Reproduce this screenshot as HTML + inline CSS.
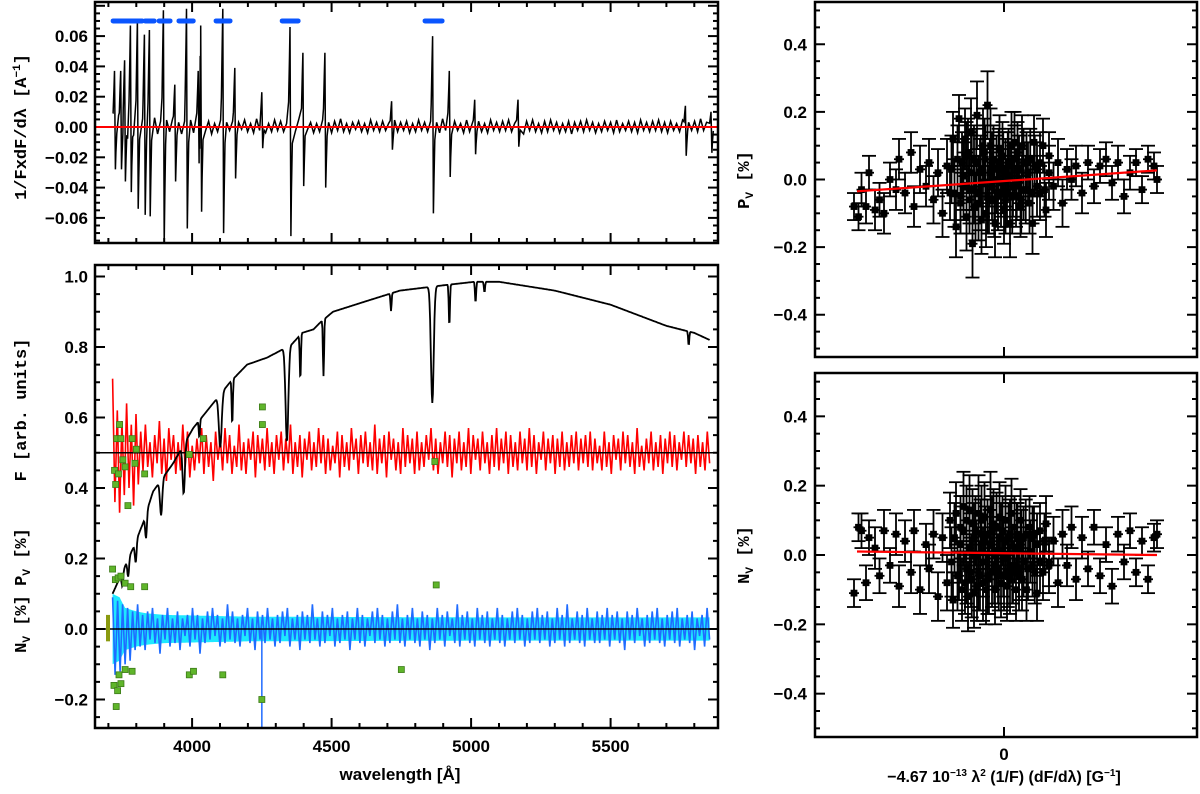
<!DOCTYPE html>
<html><head><meta charset="utf-8"><style>
html,body{margin:0;padding:0;background:#fff;}
svg{display:block;}
text{font-family:"Liberation Sans",sans-serif;font-weight:bold;fill:#000;}
</style></head><body>
<svg id="fig" xmlns="http://www.w3.org/2000/svg" width="1200" height="794" viewBox="0 0 1200 794">
<g id="g-top"></g>
<g id="g-bot"></g>
<g id="g-rt"></g>
<g id="g-rb"></g>
<text x="26" y="127" font-size="17" text-anchor="middle" transform="rotate(-90 26 127)" style="font-family:'Liberation Mono',monospace">1/FxdF/dλ [A<tspan font-size="11" dy="-6">−1</tspan><tspan dy="6">]</tspan></text>
<text x="26" y="410" font-size="17" text-anchor="middle" transform="rotate(-90 26 410)" style="font-family:'Liberation Mono',monospace">F [arb. units]</text>
<text x="26" y="557" font-size="17" text-anchor="middle" transform="rotate(-90 26 557)" style="font-family:'Liberation Mono',monospace">P<tspan font-size="11" dy="4">V</tspan><tspan dy="-4"> [%]</tspan></text>
<text x="26" y="624" font-size="17" text-anchor="middle" transform="rotate(-90 26 624)" style="font-family:'Liberation Mono',monospace">N<tspan font-size="11" dy="4">V</tspan><tspan dy="-4"> [%]</tspan></text>
<text x="400" y="780" font-size="17" text-anchor="middle">wavelength [Å]</text>
<text x="749" y="180" font-size="17" text-anchor="middle" transform="rotate(-90 749 180)" style="font-family:'Liberation Mono',monospace">P<tspan font-size="11" dy="4">V</tspan><tspan dy="-4"> [%]</tspan></text>
<text x="749" y="555" font-size="17" text-anchor="middle" transform="rotate(-90 749 555)" style="font-family:'Liberation Mono',monospace">N<tspan font-size="11" dy="4">V</tspan><tspan dy="-4"> [%]</tspan></text>
<text x="1004" y="782" font-size="16" text-anchor="middle">−4.67 10<tspan font-size="10" dy="-6">−13</tspan><tspan dy="6"> λ</tspan><tspan font-size="10" dy="-6">2</tspan><tspan dy="6"> (1/F) (dF/dλ) [G</tspan><tspan font-size="10" dy="-6">−1</tspan><tspan dy="6">]</tspan></text>
</svg>
<script>
// ---------- data ----------
const derivFeatLam = [3724,3746,3760,3781,3806,3831,3849,3899,3940,3982,4024,4033,4112,4155,4252,4353,4399,4478,4717,4864,4924,5015,5170,5770,5862];
const derivFeatPos = [0.037,0.037,0.044,0.067,0.070,0.061,0.064,0.077,0.028,0.078,0.037,0.067,0.078,0.039,0.023,0.066,0.049,0.049,0.017,0.060,0.037,0.018,0.018,0.014,0.010];
const derivFeatNeg = [-0.028,-0.028,-0.036,-0.043,-0.054,-0.058,-0.059,-0.077,-0.036,-0.067,-0.024,-0.056,-0.070,-0.034,-0.014,-0.072,-0.039,-0.040,-0.015,-0.057,-0.033,-0.018,-0.013,-0.019,-0.017];
const derivNoise = [12,-9,10,-8,9,-10,8,-7,9,-6,7,-8,6,-5,8,-6,5,-7,6,-4,7,-5,4,-6,5,-3,6,-5,4,-4,7,-3,5,-6,3,-4,6,-5,4,-3,5,-6,4,-2,6,-4,3,-5,7,-3,4,-5,3,-4,6,-3,5,-4,3,-5,4,-3,6,-4,5,-2,4,-5,3,-4,6,-3,4,-5,5,-3,7,-4,3,-5,4,-2,5,-4,3,-5,6,-3,4,-4,5,-3,3,-5,6,-4,4,-3,5,-5,3,-4,6,-3,4,-4,5,-2,4,-5,7,-3,4,-4,5,-3,3,-5,6,-4,4,-3,5,-4,3,-5,6,-3,4,-4,5,-3,6,-4,3,-5,4,-6,5,-3,6,-4,3,-5,5,-4,6,-3,4,-5,3,-4,5,-6,4,-3,5,-4,6,-3,4,-5,3,-4,5,-3,4,-5,6,-4,3,-3,5,-4,4,-5,6,-3,4,-4,5,-3,6,-4,4,-5,5,-3,3,-4,6,-5,4,-3,5,-4,7,-3,4,-5];
const maskStart = [3717,3832,3882,3953,4086,4323,4835];
const maskEnd   = [3821,3864,3921,4004,4136,4380,4896];

const contLam  = [3715,3789,3824,3860,3932,4004,4065,4136,4197,4269,4317,4360,4394,4435,4460,4505,4624,4745,4900,5012,5100,5300,5500,5700,5800,5855];
const contFlux = [0.10,0.23,0.30,0.39,0.47,0.57,0.63,0.70,0.75,0.77,0.79,0.81,0.84,0.85,0.87,0.90,0.93,0.96,0.975,0.985,0.985,0.96,0.92,0.86,0.84,0.82];
const lineLam   = [3750,3771,3798,3835,3889,3970,4026,4101,4144,4340,4388,4471,4713,4861,4922,5016,5048,5780];
const lineDepth = [0.04,0.05,0.06,0.07,0.10,0.14,0.05,0.15,0.13,0.27,0.13,0.16,0.05,0.33,0.12,0.06,0.03,0.04];
const lineWidth = [3,3,3,3,4,4,2,5,2,5,2,2,2,5,2,2,2,2];

const pvSpec = [21,-14,12,-17,9,-12,14,-10,8,-15,11,-9,6,-5,8,-4,3,-7,5,-3,9,-6,4,-8,7,-2,5,-6,3,-5,8,-4,6,-7,2,-5,4,-3,7,-6,5,-4,3,-8,6,-2,4,-5,7,-3,5,-6,2,-4,8,-5,3,-6,4,-2,6,-7,5,-3,4,-5,7,-4,3,-6,5,-2,6,-5,4,-3,8,-6,3,-4,5,-7,4,-2,6,-5,3,-4,7,-3,5,-6,4,-5,2,-3,6,-7,5,-4,3,-5,7,-2,4,-6,5,-3,6,-4,3,-5,8,-6,4,-3,5,-7,6,-2,4,-5,3,-6,7,-4,5,-3,4,-6,6,-5,3,-4,5,-2,7,-5,4,-6,3,-3,6,-4,5,-7,4,-3,6,-5,3,-4,7,-6,5,-2,4,-5,6,-3,3,-6,5,-4,7,-5,4,-3,6,-6,5,-4,3,-5,6,-3,4,-5,7,-4,5,-6,3,-2,6,-5,4,-3,5,-6,4,-4,6,-5,3,-4,5,-3,6,-5,4,-3,5,-4,6,-5,4,-3,2,-5,6,-4,3,-6,5,-2,4,-5,6,-3,5,-4,3,-6,7,-4,2,-5,4,-3,6,-5,3,-4,5,-6,4,-3,6,-4,5,-5,3,-2,6,-4,5,-3,4,-6,5,-4,3,-5,6,-3];
const nvSpec = [9,-13,8,-12,7,-10,6,-9,5,-6,7,-5,4,-6,5,-3,6,-4,3,-7,4,-3,6,-5,3,-4,5,-6,3,-2,4,-5,6,-3,4,-7,3,-4,5,-3,6,-2,4,-5,3,-4,7,-3,5,-4,3,-5,4,-2,6,-4,3,-6,5,-3,4,-4,6,-3,3,-5,4,-4,5,-2,6,-5,3,-3,4,-6,5,-3,4,-4,7,-3,3,-5,5,-4,4,-2,6,-5,3,-4,4,-3,5,-6,3,-3,6,-4,4,-5,3,-2,5,-4,6,-3,4,-5,3,-4,5,-3,7,-4,3,-5,4,-3,6,-4,3,-5,5,-3,4,-6,3,-4,6,-3,4,-5,5,-2,3,-4,7,-5,4,-3,5,-4,3,-5,6,-3,4,-4,5,-5,3,-3,6,-4,4,-5,3,-3,5,-4,6,-3,4,-5,3,-4,5,-3,6,-4,4,-3,5,-5,3,-4,6,-3,4,-5,7,-4,3,-3,5,-4,4,-5,6,-3,3,-4,5,-4,4,-3,6,-5,4,-3,5,-4,3,-6,5,-3,4,-4,6,-2,3,-5,4,-4,5,-3,6,-4,3,-5,4,-3,5,-4,6,-5,3,-3,4,-4,5,-6,3,-2,4,-5,6,-3];
const nvErrLam = [3715,3740,3760,3800,3832,3900,4200,5000,5855];
const nvErrVal = [0.10,0.09,0.06,0.05,0.045,0.04,0.035,0.033,0.033];
const pvOutLam = [3722,3726,3730,3736,3740,3745,3752,3760,3770,3785,3795,3800,3830,3990,4040,4252,4252,4870];
const pvOutVal = [0.45,0.41,0.54,0.44,0.58,0.54,0.48,0.46,0.35,0.54,0.47,0.51,0.44,0.495,0.54,0.63,0.58,0.475];
const nvOutLam = [3715,3725,3735,3745,3760,3780,3830,3720,3728,3733,3738,3745,3760,3785,3990,4005,4110,4250,4750,4875];
const nvOutVal = [0.17,0.14,0.145,0.15,0.13,0.12,0.12,-0.16,-0.22,-0.175,-0.13,-0.155,-0.115,-0.12,-0.13,-0.12,-0.13,-0.20,-0.115,0.125];

const pvX = [-1.0,-0.97,-0.95,-0.92,-0.9,-0.86,-0.83,-0.8,-0.76,-0.72,-0.7,-0.66,-0.62,-0.6,-0.56,-0.52,-0.5,-0.47,-0.44,-0.41,-0.38,-0.36,-0.34,-0.32,-0.3,-0.29,-0.28,-0.27,-0.26,-0.25,-0.24,-0.23,-0.22,-0.21,-0.2,-0.19,-0.18,-0.17,-0.16,-0.15,-0.14,-0.13,-0.12,-0.11,-0.1,-0.09,-0.08,-0.07,-0.06,-0.05,-0.04,-0.03,-0.02,-0.01,0,0.01,0.02,0.03,0.04,0.05,0.06,0.07,0.08,0.09,0.1,0.11,0.12,0.13,0.15,0.17,0.19,0.2,0.22,0.24,0.26,0.28,0.3,0.33,0.36,0.39,0.42,0.45,0.48,0.52,0.56,0.6,0.64,0.68,0.72,0.76,0.8,0.84,0.88,0.92,0.96,1.0,1.02];
const pvY = [-0.08,-0.11,-0.03,-0.08,0.02,-0.09,-0.06,-0.1,0.0,-0.03,0.06,-0.04,0.08,-0.08,0.03,-0.02,0.05,-0.06,0.02,-0.1,0.04,-0.04,0.12,-0.14,0.18,-0.07,0.05,-0.02,0.12,-0.11,0.08,-0.03,0.14,-0.19,0.06,-0.08,0.19,-0.04,0.02,-0.12,0.1,0.08,-0.1,0.22,-0.06,0.1,-0.02,0.06,-0.13,0.03,-0.05,0.09,-0.01,0.07,-0.09,0.02,-0.04,0.05,-0.13,0.1,-0.02,0.11,-0.05,0.08,0.0,-0.08,0.1,-0.03,0.05,-0.07,-0.13,0.11,0.03,-0.04,0.1,-0.09,0.07,-0.02,0.05,-0.07,0.03,0.0,0.04,-0.04,0.05,-0.02,0.04,0.06,-0.01,0.05,-0.05,0.02,0.05,-0.03,0.06,0.04,0.0];
const pvE = [0.04,0.04,0.05,0.05,0.05,0.06,0.05,0.06,0.05,0.06,0.06,0.06,0.06,0.06,0.07,0.06,0.07,0.07,0.07,0.07,0.08,0.08,0.08,0.09,0.07,0.09,0.09,0.1,0.09,0.1,0.1,0.1,0.1,0.1,0.1,0.1,0.1,0.11,0.1,0.1,0.11,0.1,0.1,0.1,0.1,0.11,0.1,0.1,0.1,0.1,0.1,0.1,0.1,0.1,0.1,0.1,0.1,0.1,0.1,0.1,0.09,0.09,0.09,0.09,0.09,0.09,0.09,0.09,0.09,0.09,0.09,0.08,0.08,0.08,0.08,0.08,0.07,0.07,0.07,0.07,0.06,0.06,0.06,0.06,0.05,0.05,0.05,0.05,0.05,0.05,0.05,0.05,0.04,0.04,0.04,0.04,0.04];
const pvCoreX = [-0.35,-0.33,-0.31,-0.29,-0.27,-0.25,-0.23,-0.215,-0.2,-0.185,-0.17,-0.155,-0.14,-0.125,-0.11,-0.095,-0.08,-0.065,-0.05,-0.035,-0.02,-0.005,0.01,0.025,0.04,0.055,0.07,0.085,0.1,0.115,0.13,0.145,0.16,0.175,0.19,0.205,0.22,0.24,0.27,0.3];
const pvCoreY = [0.03,-0.04,0.06,-0.05,0.01,0.07,-0.06,0.02,-0.03,0.05,-0.07,0.03,-0.01,0.06,-0.05,0.02,0.04,-0.06,0.0,0.05,-0.04,0.03,-0.06,0.04,0.01,-0.05,0.06,-0.02,0.03,-0.06,0.05,-0.03,0.02,0.06,-0.04,0.04,-0.02,0.05,-0.03,0.02];
const pvCoreE = [0.1,0.1,0.1,0.11,0.1,0.1,0.1,0.11,0.1,0.1,0.11,0.1,0.1,0.1,0.11,0.1,0.1,0.11,0.1,0.1,0.1,0.11,0.1,0.1,0.1,0.11,0.1,0.1,0.1,0.1,0.1,0.1,0.09,0.09,0.09,0.09,0.09,0.09,0.08,0.08];
const nvX = pvX;
const nvY = [-0.11,0.08,0.07,-0.08,0.05,0.02,-0.06,0.07,-0.03,0.06,-0.09,0.04,-0.05,0.07,-0.1,0.03,-0.04,0.06,-0.12,0.05,-0.08,0.1,-0.13,0.12,-0.06,0.08,-0.1,0.14,-0.08,0.1,-0.12,0.13,-0.05,0.09,-0.11,0.07,-0.09,0.12,-0.06,0.1,-0.08,0.11,-0.1,0.06,-0.07,0.13,-0.05,0.09,-0.1,0.08,-0.04,0.11,-0.08,0.07,-0.06,0.1,-0.09,0.05,-0.07,0.12,-0.05,0.08,-0.1,0.06,-0.04,0.1,-0.07,0.05,-0.1,0.08,-0.03,0.06,-0.11,0.07,-0.05,0.09,-0.02,0.04,-0.08,0.06,-0.03,0.08,-0.07,0.05,-0.04,0.08,-0.06,0.03,-0.09,0.06,-0.02,0.07,-0.05,0.04,-0.07,0.05,0.06];
const nvCoreY = [-0.02,0.05,-0.06,0.03,0.07,-0.04,0.02,-0.07,0.05,0.0,-0.05,0.06,-0.02,0.04,-0.06,0.03,0.07,-0.03,0.01,-0.06,0.05,-0.01,0.04,-0.05,0.06,-0.03,0.02,0.05,-0.06,0.03,-0.02,0.06,-0.04,0.01,0.05,-0.05,0.03,-0.02,0.04,-0.03];

// ---------- helpers ----------
const NS = "http://www.w3.org/2000/svg";
function mk(parent, tag, attrs){
  const e = document.createElementNS(NS, tag);
  for (const k in attrs) e.setAttribute(k, attrs[k]);
  parent.appendChild(e);
  return e;
}
const LAM0 = 3652, PXA = 0.2790, XL = 95, XR = 718;
const xL = l => XL + (l - LAM0) * PXA;
const yTop = v => 127 - v * 1515;
const yBot = v => 629 - v * 352.5;
function interp(xs, ys, x){
  if (x <= xs[0]) return ys[0];
  for (let i = 1; i < xs.length; i++) if (x <= xs[i]) { const t = (x - xs[i-1]) / (xs[i] - xs[i-1]); return ys[i-1] + t * (ys[i] - ys[i-1]); }
  return ys[ys.length-1];
}
function frame(g, x0, y0, x1, y1){
  const r = mk(g, 'rect', {x:x0, y:y0, width:x1-x0, height:y1-y0, fill:'none', stroke:'#000', 'stroke-width':2.5});
  
  
}
function tick(g, x1, y1, x2, y2, w){ mk(g, 'line', {x1, y1, x2, y2, stroke:'#000', 'stroke-width':w||2}); }

// ---------- top-left derivative panel ----------
(function(){
  const g = document.getElementById('g-top');
  const T = 2, B = 243;
  for (let l = 3700; l <= 5800; l += 100){ const x = xL(l); const maj = l % 500 === 0; tick(g, x, T, x, T + (maj?10:5)); tick(g, x, B, x, B - (maj?10:5)); }
  for (let v = -0.075; v <= 0.0801; v += 0.005){ const y = yTop(v); const maj = Math.abs(Math.round(v*1000) % 20) === 0; tick(g, XL, y, XL + (maj?10:5), y); tick(g, XR, y, XR - (maj?10:5), y); }
  const labs = ['0.06','0.04','0.02','0.00','−0.02','−0.04','−0.06'];
  const vals = [0.06,0.04,0.02,0,-0.02,-0.04,-0.06];
  vals.forEach((v,i) => { const t = mk(g, 'text', {x:88, y:yTop(v)+6, 'font-size':17, 'text-anchor':'end'}); t.textContent = labs[i];
    
     });
  const pts = [];
  const n = derivNoise.length;
  for (let i = 0; i < n; i++){
    const l = 3715 + i * (5855 - 3715) / (n - 1);
    let near = false;
    derivFeatLam.forEach(c => { if (Math.abs(l - c) < 8) near = true; });
    if (!near) pts.push([l, derivNoise[i] / 1300]);
  }
  derivFeatLam.forEach((l,i) => { pts.push([l-7, derivFeatPos[i]*0.25],[l-4, derivFeatPos[i]*0.7],[l-2, derivFeatPos[i]],[l+1, derivFeatNeg[i]],[l+3, derivFeatNeg[i]*0.6],[l+6, derivFeatNeg[i]*0.15]); });
  pts.sort((a,b) => a[0]-b[0]);
  const p = mk(g, 'polyline', {points: pts.map(q => xL(q[0]).toFixed(1)+','+yTop(q[1]).toFixed(1)).join(' '), fill:'none', stroke:'#000', 'stroke-width':1.5});
  
  
  const z = mk(g, 'line', {x1:XL, y1:yTop(0), x2:XR, y2:yTop(0), stroke:'#f00', 'stroke-width':2});
  
  
  maskStart.forEach((s,i) => { const m = mk(g, 'line', {x1:xL(s), y1:yTop(0.07), x2:xL(maskEnd[i]), y2:yTop(0.07), stroke:'#0a55ff', 'stroke-width':5, 'stroke-linecap':'round'});
    
     });
  frame(g, XL, T, XR, B);
})();

// ---------- bottom-left spectrum panel ----------
(function(){
  const g = document.getElementById('g-bot');
  const T = 265, B = 728;
  for (let l = 3700; l <= 5800; l += 100){ const x = xL(l); const maj = l % 500 === 0; tick(g, x, T, x, T + (maj?10:5)); tick(g, x, B, x, B - (maj?10:5)); }
  for (let v = -0.25; v <= 1.0201; v += 0.05){ const y = yBot(v); const maj = Math.abs(Math.round(v*100) % 20) === 0; tick(g, XL, y, XL + (maj?10:5), y); tick(g, XR, y, XR - (maj?10:5), y); }
  const vals = [1.0,0.8,0.6,0.4,0.2,0.0,-0.2];
  const labs = ['1.0','0.8','0.6','0.4','0.2','0.0','−0.2'];
  vals.forEach((v,i) => { const t = mk(g, 'text', {x:88, y:yBot(v)+6, 'font-size':17, 'text-anchor':'end'}); t.textContent = labs[i];
    
     });
  [4000,4500,5000,5500].forEach(l => { const t = mk(g, 'text', {x:xL(l), y:752, 'font-size':17, 'text-anchor':'middle'}); t.textContent = String(l);
    
     });
  const up = [], dn = [];
  for (let l = 3715; l <= 5855; l += 5){ const e = interp(nvErrLam, nvErrVal, l); up.push(xL(l).toFixed(1)+','+yBot(e).toFixed(1)); dn.unshift(xL(l).toFixed(1)+','+yBot(-e).toFixed(1)); }
  const band = mk(g, 'polygon', {points: up.concat(dn).join(' '), fill:'#1ee8ff', stroke:'none'});
  
  
  function noiseLine(arr, base, color, name){
    const n = arr.length;
    const pts = arr.map((v,i) => { const l = 3715 + i * (5855 - 3715) / (n - 1); return xL(l).toFixed(1)+','+yBot(base + v/100).toFixed(1); });
    const p = mk(g, 'polyline', {points: pts.join(' '), fill:'none', stroke:color, 'stroke-width':1.6});
    
    
  }
  noiseLine(pvSpec, 0.5, '#ff0000', 'pv-spectrum');
  noiseLine(nvSpec, 0.0, '#1f6bff', 'nv-spectrum');
  const spike = mk(g, 'line', {x1:xL(4250), y1:yBot(0), x2:xL(4250), y2:B, stroke:'#1f6bff', 'stroke-width':1.5});
  
  
  const fp = [];
  for (let l = 3715; l <= 5855; l += 2){
    let f = interp(contLam, contFlux, l);
    lineLam.forEach((c,i) => { const d = (l - c) / lineWidth[i]; f -= lineDepth[i] * Math.exp(-0.5 * d * d); });
    fp.push(xL(l).toFixed(1)+','+yBot(f).toFixed(1));
  }
  const fl = mk(g, 'polyline', {points: fp.join(' '), fill:'none', stroke:'#000', 'stroke-width':1.8});
  
  
  [0.5, 0].forEach(v => { const z = mk(g, 'line', {x1:XL, y1:yBot(v), x2:XR, y2:yBot(v), stroke:'#000', 'stroke-width':1.6});
    
     });
  function marks(ls, vs, name){
    ls.forEach((l,i) => { const r = mk(g, 'rect', {x:xL(l)-3, y:yBot(vs[i])-3, width:6, height:6, fill:'#5fb52a', stroke:'#3c7a18', 'stroke-width':0.8});
      
       });
  }
  marks(pvOutLam, pvOutVal, 'pv-outlier');
  marks(nvOutLam, nvOutVal, 'nv-outlier');
  const ob = mk(g, 'line', {x1:108, y1:yBot(0.04), x2:108, y2:yBot(-0.035), stroke:'#8a9a10', 'stroke-width':4});
  
  
  frame(g, XL, T, XR, B);
})();

// ---------- right scatter panels ----------
function scatter(gid, T, B, sets, fitA, fitB, name){
  const g = document.getElementById(gid);
  const L = 815, R = 1197, X0 = 1004, SX = 150;
  const yc = (T + B) / 2, sy = (B - T) / 1.05;
  const yv = v => yc - v * sy;
  const xv = u => X0 + u * SX;
  for (let v = -0.5; v <= 0.5001; v += 0.05){ const y = yv(v); const maj = Math.abs(Math.round(v*100) % 20) === 0; tick(g, L, y, L + (maj?10:5), y); tick(g, R, y, R - (maj?10:5), y); }
  tick(g, X0, T, X0, T + 10); tick(g, X0, B, X0, B - 10);
  const vals = [0.4,0.2,0.0,-0.2,-0.4], labs = ['0.4','0.2','0.0','−0.2','−0.4'];
  vals.forEach((v,i) => { const t = mk(g, 'text', {x:807, y:yv(v)+6, 'font-size':17, 'text-anchor':'end'}); t.textContent = labs[i];
    
     });
  sets.forEach(([X, Y, E]) => {
    const n = Math.min(X.length, Y.length, E.length);
    for (let i = 0; i < n; i++){
      const x = xv(X[i]), y = yv(Y[i]), e = E[i] * sy;
      const gg = mk(g, 'g', {stroke:'#000', 'stroke-width':1.8});
      
      
      mk(gg, 'line', {x1:x, y1:y-e, x2:x, y2:y+e});
      mk(gg, 'line', {x1:x-7, y1:y-e, x2:x+7, y2:y-e});
      mk(gg, 'line', {x1:x-7, y1:y+e, x2:x+7, y2:y+e});
      mk(gg, 'line', {x1:x-5, y1:y, x2:x+5, y2:y});
      mk(gg, 'rect', {x:x-2.5, y:y-2.5, width:5, height:5, fill:'#000'});
    }
  });
  const f = mk(g, 'line', {x1:xv(-0.98), y1:yv(fitA), x2:xv(1.02), y2:yv(fitB), stroke:'#f00', 'stroke-width':2.2});
  
  
  frame(g, L, T, R, B);
}
scatter('g-rt', 2, 357, [[pvX, pvY, pvE],[pvCoreX, pvCoreY, pvCoreE]], -0.035, 0.027, 'pv-point');
scatter('g-rb', 373, 737, [[nvX, nvY, pvE],[pvCoreX, nvCoreY, pvCoreE]], 0.01, 0.0, 'nv-point');
(function(){
  const t = mk(document.getElementById('g-rb'), 'text', {x:1004, y:760, 'font-size':17, 'text-anchor':'middle'});
  t.textContent = '0';
  
  
})();
</script>
</body></html>
